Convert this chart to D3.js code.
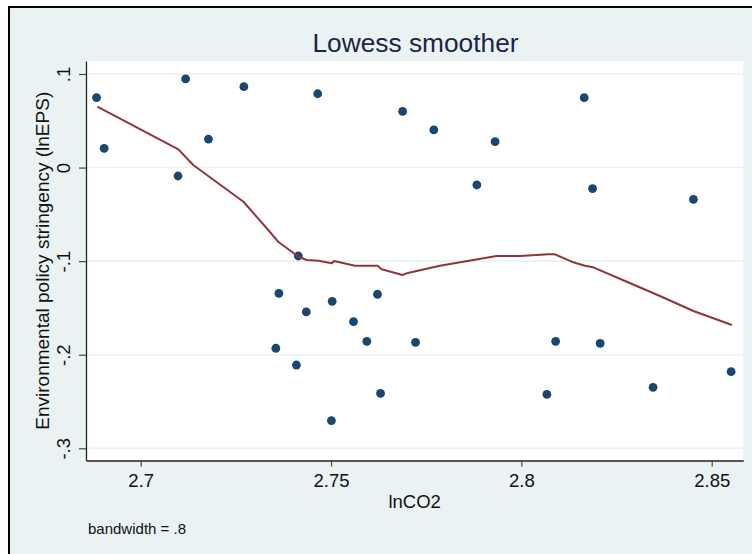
<!DOCTYPE html>
<html>
<head>
<meta charset="utf-8">
<script src="https://cdn.jsdelivr.net/npm/d3@7"></script>
<style>
    body{margin:0;background:#ffffff;}
    svg{display:block;font-family:"Liberation Sans",Arial,sans-serif;}
</style>
</head>
<body>
<div id="chart"></div>
<script>
// scatter data (lnCO2, lnEPS)
const lnCO2 = [2.6884, 2.6904, 2.7118, 2.7098, 2.7178, 2.7271, 2.7465, 2.7688, 2.7770, 2.7931,
    2.7883, 2.8165, 2.8187, 2.8452, 2.7414, 2.7363, 2.7435, 2.7503, 2.7622, 2.7559,
    2.7594, 2.7722, 2.7355, 2.7409, 2.7630, 2.7501, 2.8090, 2.8207, 2.8067, 2.8346, 2.8551];
const lnEPS = [0.0747, 0.0206, 0.0947, -0.0090, 0.0305, 0.0864, 0.0789, 0.0601, 0.0402, 0.0277,
    -0.0186, 0.0747, -0.0226, -0.0339, -0.0945, -0.1344, -0.1543, -0.1429, -0.1354, -0.1647,
    -0.1857, -0.1867, -0.1931, -0.2110, -0.2412, -0.2705, -0.1857, -0.1878, -0.2423, -0.2348, -0.2181];

// lowess smoother line, vertices
const smoothX = [2.6886, 2.7099, 2.7138, 2.7270, 2.7335, 2.7361, 2.7414, 2.7436, 2.7467, 2.7502,
    2.7508, 2.7563, 2.7622, 2.7633, 2.7688, 2.7699, 2.7786, 2.7935, 2.7996, 2.8071,
    2.8088, 2.8132, 2.8167, 2.8189, 2.8277, 2.8364, 2.8452, 2.8553];
const smoothY = [0.0651, 0.0195, 0.0028, -0.0365, -0.0667, -0.0792, -0.0950, -0.0988, -0.0995, -0.1023,
    -0.0998, -0.1049, -0.1049, -0.1087, -0.1148, -0.1130, -0.1049, -0.0945, -0.0945, -0.0927,
    -0.0927, -0.1006, -0.1049, -0.1066, -0.1220, -0.1372, -0.1533, -0.1682];

const xTicks = [2.7, 2.75, 2.8, 2.85];
const xTickLabels = ["2.7", "2.75", "2.8", "2.85"];
const yTicks = [0.1, 0, -0.1, -0.2, -0.3];
const yTickLabels = [".1", "0", "-.1", "-.2", "-.3"];

const chartTitle = "Lowess smoother";
const xTitle = "lnCO2";
const yTitle = "Environmental policy stringency (lnEPS)";
const note = "bandwidth = .8";

class LowessPlotD3 {
    plot = {left: 86, right: 743.3, top: 61, bottom: 460.5};
    dotColor = "#1a476f";
    lineColor = "#90353b";
    bgColor = "#eaf2f3";
    dotRadius = 4.4;

    constructor(el){
        this.el = el;
    }

    create(config){
        this.svg = d3.select(this.el).append("svg")
            .attr("width", config.width)
            .attr("height", config.height);

        // outer graph region with black frame
        this.svg.append("rect")
            .attr("x", 9).attr("y", 7)
            .attr("width", config.width)
            .attr("height", config.height)
            .attr("fill", this.bgColor)
            .attr("stroke", "#000")
            .attr("stroke-width", 2);

        this.svg.append("rect")
            .attr("x", this.plot.left).attr("y", this.plot.top)
            .attr("width", this.plot.right - this.plot.left)
            .attr("height", this.plot.bottom - this.plot.top)
            .attr("fill", "#fff");

        this.xScale = d3.scaleLinear().domain([2.68563, 2.8583]).range([this.plot.left, this.plot.right]);
        this.yScale = d3.scaleLinear().domain([0.11389, -0.31304]).range([this.plot.top, this.plot.bottom]);
    }

    renderAxes(){
        const p = this.plot;
        // gridlines
        this.svg.append("g").selectAll("line")
            .data(yTicks)
            .join("line")
            .attr("x1", p.left).attr("x2", p.right)
            .attr("y1", d=>this.yScale(d)).attr("y2", d=>this.yScale(d))
            .attr("stroke", this.bgColor)
            .attr("stroke-width", 1.6);

        const xAxisG = this.svg.append("g")
            .attr("transform", "translate(0," + p.bottom + ")")
            .call(d3.axisBottom(this.xScale)
                .tickValues(xTicks)
                .tickFormat((d,i)=>xTickLabels[i])
                .tickSize(6).tickPadding(7).tickSizeOuter(0));
        xAxisG.select(".domain").attr("stroke", "#222").attr("stroke-width", 1.3);
        xAxisG.selectAll(".tick line").attr("stroke", "#444").attr("stroke-width", 1.2);
        xAxisG.selectAll(".tick text")
            .attr("font-size", 18.5).attr("fill", "#111")
            .attr("font-family", "Liberation Sans, Arial, sans-serif");

        const yAxisG = this.svg.append("g")
            .attr("transform", "translate(" + p.left + ",0)")
            .call(d3.axisLeft(this.yScale)
                .tickValues(yTicks)
                .tickFormat((d,i)=>yTickLabels[i])
                .tickSize(7).tickSizeOuter(0));
        yAxisG.select(".domain").attr("stroke", "#222").attr("stroke-width", 1.3);
        yAxisG.selectAll(".tick line").attr("stroke", "#444").attr("stroke-width", 1.2);
        yAxisG.selectAll(".tick text")
            .attr("font-size", 18.5).attr("fill", "#111")
            .attr("font-family", "Liberation Sans, Arial, sans-serif")
            .attr("x", 0).attr("dy", null)
            .attr("text-anchor", "middle")
            .attr("transform", "translate(-16,0) rotate(-90)");

        this.svg.append("text")
            .attr("x", (p.left + p.right) / 2)
            .attr("y", 508)
            .attr("text-anchor", "middle")
            .attr("font-size", 18.5)
            .attr("fill", "#111")
            .text(xTitle);

        this.svg.append("text")
            .attr("transform", "translate(49," + (p.top + p.bottom) / 2 + ") rotate(-90)")
            .attr("text-anchor", "middle")
            .attr("font-size", 19)
            .attr("fill", "#111")
            .text(yTitle);

        this.svg.append("text")
            .attr("x", 415.5)
            .attr("y", 51.5)
            .attr("text-anchor", "middle")
            .attr("font-size", 26.3)
            .attr("fill", "#1c2545")
            .text(chartTitle);

        this.svg.append("text")
            .attr("x", 88)
            .attr("y", 534)
            .attr("font-size", 15)
            .attr("fill", "#111")
            .text(note);
    }

    renderMarks(){
        const points = lnCO2.map((x,i)=>({x: x, y: lnEPS[i]}));
        this.svg.append("g").selectAll("circle")
            .data(points)
            .join("circle")
            .attr("cx", d=>this.xScale(d.x))
            .attr("cy", d=>this.yScale(d.y))
            .attr("r", this.dotRadius)
            .attr("fill", this.dotColor);

        const line = d3.line()
            .x(d=>this.xScale(d[0]))
            .y(d=>this.yScale(d[1]));
        this.svg.append("path")
            .datum(smoothX.map((x,i)=>[x, smoothY[i]]))
            .attr("d", line)
            .attr("fill", "none")
            .attr("stroke", this.lineColor)
            .attr("stroke-width", 2)
            .attr("stroke-linejoin", "round");
    }
}

const vis = new LowessPlotD3(document.getElementById("chart"));
vis.create({width: 752, height: 554});
vis.renderAxes();
vis.renderMarks();
</script>
</body>
</html>
